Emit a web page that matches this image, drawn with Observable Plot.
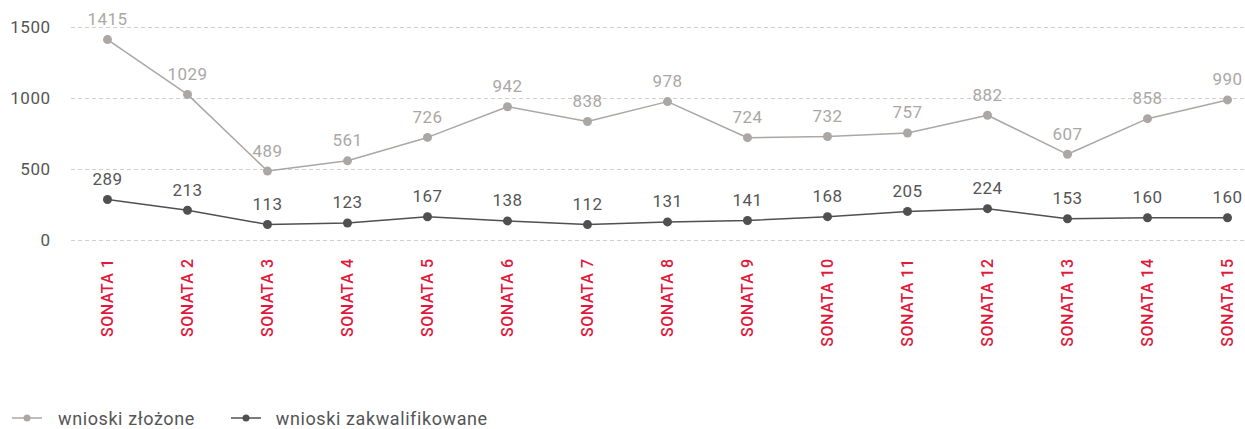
<!DOCTYPE html>
<html><head><meta charset="utf-8">
<script src="https://cdn.jsdelivr.net/npm/d3@7"></script>
<script src="https://cdn.jsdelivr.net/npm/@observablehq/plot@0.6"></script>
<style>
body{margin:0;background:#fff;font-family:Roboto,"Noto Sans",sans-serif;}
#legend{display:flex;align-items:center;height:46px;font-size:18px;color:#555;letter-spacing:0.6px;}
.item{display:flex;align-items:center;}
</style></head><body>
<div id="chart"></div>
<div id="legend"></div>
<script>
const categories = ["SONATA 1","SONATA 2","SONATA 3","SONATA 4","SONATA 5","SONATA 6","SONATA 7","SONATA 8","SONATA 9","SONATA 10","SONATA 11","SONATA 12","SONATA 13","SONATA 14","SONATA 15"];
const zlozone = [1415,1029,489,561,726,942,838,978,724,732,757,882,607,858,990];
const zakwalifikowane = [289,213,113,123,167,138,112,131,141,168,205,224,153,160,160];
const seriesNames = ["wnioski złożone","wnioski zakwalifikowane"];
const colors = ["#aba7a4","#505050"];
const labelColors = ["#aba7a4","#555555"];
const yTicks = [0,500,1000,1500];

const data = [];
categories.forEach((c,i)=>{
  data.push({cat:c, value:zlozone[i], series:seriesNames[0]});
  data.push({cat:c, value:zakwalifikowane[i], series:seriesNames[1]});
});

const chart = Plot.plot({
  width:1245, height:395,
  marginLeft:71, marginRight:0, marginTop:27, marginBottom:155,
  style:{fontFamily:"Roboto, 'Noto Sans', sans-serif", fontSize:"17px", background:"#fff", letterSpacing:"0.5px"},
  x:{type:"point", domain:categories, padding:0, insetLeft:34, insetRight:17, label:null},
  y:{domain:[0,1500], label:null},
  color:{domain:seriesNames, range:colors},
  marks:[
    Plot.gridY(yTicks,{stroke:"#cfcfcf", strokeOpacity:1, strokeDasharray:"4,3"}),
    Plot.axisY({ticks:yTicks, tickFormat:d=>String(d), tickSize:0, tickPadding:21, fill:"#555", fontSize:17, label:null}),
    Plot.axisX({tickSize:0, tickPadding:18, tickRotate:-90, fill:"#e0193d", fontSize:16, fontWeight:500, label:null}),
    Plot.line(data,{x:"cat", y:"value", z:"series", stroke:"series", strokeWidth:1.5}),
    Plot.dot(data,{x:"cat", y:"value", fill:"series", r:4.5}),
    Plot.text(data,{x:"cat", y:"value", text:d=>String(d.value), dy:-20, fill:d=>labelColors[seriesNames.indexOf(d.series)], fontSize:17})
  ]
});
document.getElementById("chart").appendChild(chart);

const legend = document.getElementById("legend");
const lpos = [{ml:12, gap:16},{ml:36, gap:15}];
seriesNames.forEach((s,i)=>{
  const item = document.createElement("div");
  item.className="item";
  item.style.marginLeft = lpos[i].ml+"px";
  item.innerHTML = `<svg width="30" height="10"><line x1="0" y1="5" x2="30" y2="5" stroke="${colors[i]}" stroke-width="1.5"/><circle cx="15" cy="5" r="3.5" fill="${colors[i]}"/></svg><span style="margin-left:${lpos[i].gap}px">${s}</span>`;
  legend.appendChild(item);
});
</script>
</body></html>
